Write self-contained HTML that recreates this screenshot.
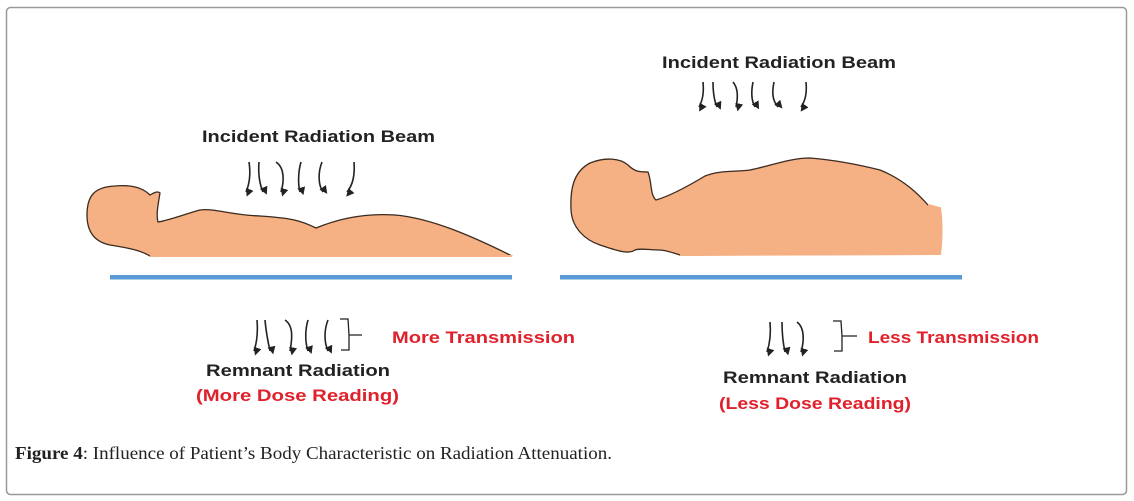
<!DOCTYPE html>
<html><head><style>
html,body{margin:0;padding:0;background:#fff;}
svg{display:block;}
</style></head><body>
<svg width="1134" height="501" viewBox="0 0 1134 501" xmlns="http://www.w3.org/2000/svg">
<defs>
<marker id="ah" viewBox="0 0 10 10" refX="5" refY="8" markerWidth="5" markerHeight="5" orient="auto-start-reverse">
<path d="M0,0 L10,5 L0,10 z" fill="#222"/>
</marker>
</defs>
<rect x="6.5" y="7.5" width="1120" height="487" rx="4" fill="#fff" stroke="#999" stroke-width="1.5"/>
<g font-family="Liberation Sans, sans-serif" font-weight="bold" font-size="17" lengthAdjust="spacingAndGlyphs">
<text x="202" y="142" textLength="233" lengthAdjust="spacingAndGlyphs" fill="#222">Incident Radiation Beam</text>
<text x="662" y="68" textLength="234" lengthAdjust="spacingAndGlyphs" fill="#222">Incident Radiation Beam</text>
<text x="206" y="376" textLength="184" lengthAdjust="spacingAndGlyphs" fill="#222">Remnant Radiation</text>
<text x="196" y="401" textLength="203" lengthAdjust="spacingAndGlyphs" fill="#e0202a">(More Dose Reading)</text>
<text x="392" y="343" textLength="183" lengthAdjust="spacingAndGlyphs" fill="#e0202a">More Transmission</text>
<text x="723" y="383" textLength="184" lengthAdjust="spacingAndGlyphs" fill="#222">Remnant Radiation</text>
<text x="719" y="409" textLength="192" lengthAdjust="spacingAndGlyphs" fill="#e0202a">(Less Dose Reading)</text>
<text x="868" y="343" textLength="171" lengthAdjust="spacingAndGlyphs" fill="#e0202a">Less Transmission</text>
</g>
<!-- left body -->
<path d="M150,256 C140,250 128,248 110,245 C95,242 87,232 87,215 C87,195 95,187 115,186 C135,184 145,190 150,195 C155,192 158,191 160,193 C158,205 156,215 158,222 C170,220 185,214 200,210 C215,208 230,215 260,216 C290,218 300,220 316,228 C340,218 365,213 395,215 C430,218 470,235 512,256 Z" fill="#f5b083" stroke="#3b2b20" stroke-width="1.3"/>
<line x1="150" y1="256" x2="512" y2="256" stroke="#f5b083" stroke-width="2"/>
<rect x="110" y="275" width="402" height="4.5" fill="#5b9bd5"/>
<!-- right body -->
<path d="M680,255 C670,252 665,250 660,250 C650,250 640,248 635,250 C628,255 615,250 600,245 C585,240 572,228 571,210 C570,190 573,172 590,163 C605,157 620,158 628,165 C635,172 640,172 648,172 C652,182 650,195 656,200 C670,196 690,185 705,176 C720,170 735,172 750,170 C770,166 790,158 810,158 C835,160 860,165 880,170 C905,180 920,196 928,205 L940,208 C942,220 942,240 940,254 Z" fill="#f5b083" stroke="#3b2b20" stroke-width="1.3"/>
<path d="M928,205 L940,208 C942,220 942,240 940,254 L680,255" fill="none" stroke="#f5b083" stroke-width="2"/>
<rect x="560" y="275" width="402" height="4.5" fill="#5b9bd5"/>
<!-- arrows -->
<g fill="none" stroke="#222" stroke-width="1.6" marker-end="url(#ah)">
<path d="M249,162 C251,175 249,185 246,192"/>
<path d="M259,162 C258,175 260,185 263,192"/>
<path d="M276,162 C285,168 284,182 281,192"/>
<path d="M301,162 C298,172 298,185 300,192"/>
<path d="M322,162 C318,172 318,185 323,192"/>
<path d="M354,162 C355,175 353,185 347,192"/>
<path d="M703,82 C704,92 703,100 699,107"/>
<path d="M713,82 C713,92 714,100 717,107"/>
<path d="M733,82 C738,88 738,98 736,107"/>
<path d="M753,82 C751,92 751,100 755,107"/>
<path d="M774,82 C772,92 772,100 778,107"/>
<path d="M806,82 C807,92 806,100 801,107"/>
<path d="M257,320 C258,332 257,342 254,351"/>
<path d="M265,320 C266,332 268,342 270,351"/>
<path d="M285,320 C294,326 292,340 290,351"/>
<path d="M308,320 C305,330 305,342 308,351"/>
<path d="M328,320 C324,330 324,342 328,351"/>
<path d="M770,322 C771,333 770,343 767,352"/>
<path d="M782,322 C782,333 783,343 785,352"/>
<path d="M797,322 C805,328 804,342 801,352"/>
</g>
<g fill="none" stroke="#222" stroke-width="1.3">
<path d="M340,319 L348,319 L349,335 L349,350 L341,350 M349,335 L362,335"/>
<path d="M833,321 L841,321 L842,336 L842,351 L834,351 M842,336 L857,336"/>
</g>
<text x="15" y="459" font-family="Liberation Serif, serif" font-size="17.5" fill="#222" textLength="597" lengthAdjust="spacingAndGlyphs"><tspan font-weight="bold">Figure 4</tspan>: Influence of Patient’s Body Characteristic on Radiation Attenuation.</text>
</svg>
</body></html>
